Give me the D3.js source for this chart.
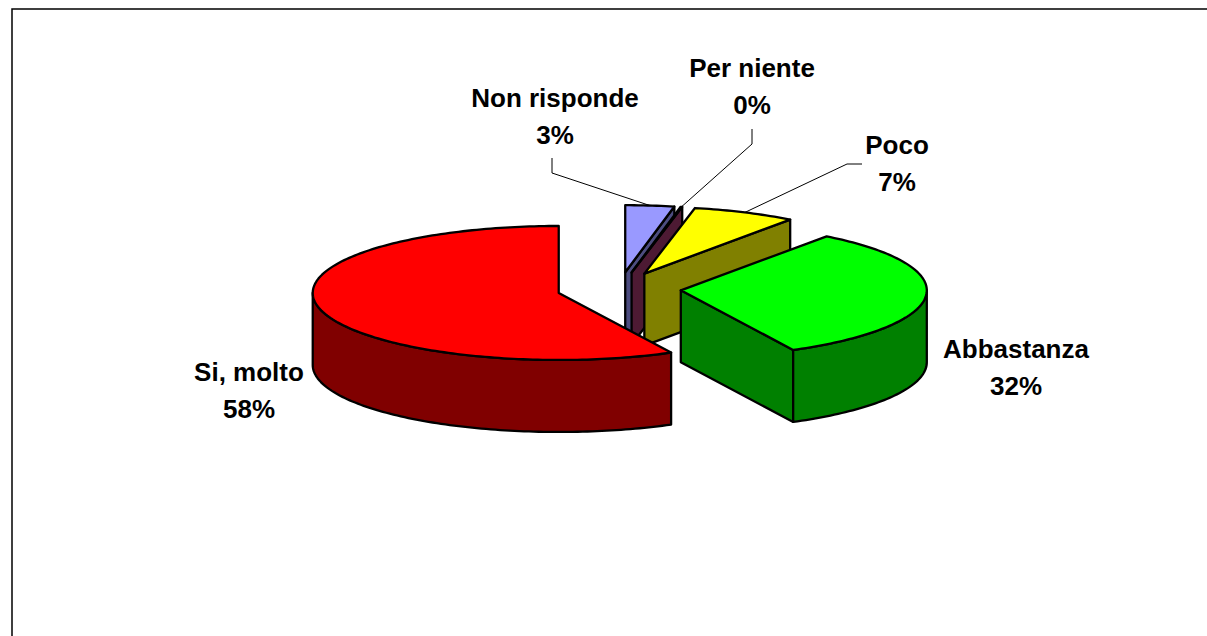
<!DOCTYPE html>
<html><head><meta charset="utf-8">
<script src="https://cdnjs.cloudflare.com/ajax/libs/d3/7.8.5/d3.min.js"></script>
<style>html,body{margin:0;padding:0;background:#fff}svg{display:block}
text{font-family:"Liberation Sans",Arial,sans-serif;font-weight:bold;font-size:26px;fill:#000}</style>
</head><body><svg id="c" width="1207" height="636"></svg>
<script>
// Data
const categories = ["Non risponde","Per niente","Poco","Abbastanza","Si, molto"];
const values = [3.2,0.1,6.8,32.35,57.55];
// Styles
const topColors = ["#9999ff","#993366","#ffff00","#00ff00","#ff0000"];
const sideColors = ["#4d4d80","#4d1a33","#808000","#008000","#800000"];
// Layout
const cx=619, cy=289, rx=246, ry=67, depth=72, explode=62;
const labelPos = [[555,98],[752,68],[897,145],[1016,349],[249,372]];
const leaderPts = [[[552,158],[552,173]],[[752,129],[752,144]],[[862,164],[847,164]]];
const svg=d3.select("#c");
svg.append("path").attr("d","M12,640V9H1210").attr("fill","none").attr("stroke","#000").attr("stroke-width",1.5);

const pie=d3.pie().sort(null).value(d=>d)(values);
const total=d3.sum(values);
const squash=ry/rx;
const px=a=>rx*Math.sin(a), py=a=>-ry*Math.cos(a);
const g=svg.append("g");
function center(p){const m=(p.startAngle+p.endAngle)/2;
  return [cx+explode*Math.sin(m), cy-explode*squash*Math.cos(m)];}
function rimPath(c,a0,a1,dy){const n=Math.max(2,Math.ceil((a1-a0)/0.02));
  return d3.range(n+1).map(i=>{const a=a0+(a1-a0)*i/n;return [c[0]+px(a),c[1]+py(a)+dy];});}
const line=d3.line();
pie.forEach((p,i)=>{
  const c=center(p),a0=p.startAngle,a1=p.endAngle;
  const s=g.append("g").attr("stroke","#000").attr("stroke-width",2.3).attr("stroke-linejoin","round");
  if(Math.sin(a1)>0){
    const e=[c[0]+px(a1),c[1]+py(a1)];
    s.append("path").attr("d",line([c,e,[e[0],e[1]+depth],[c[0],c[1]+depth]])+"Z").attr("fill",sideColors[i]);
  }
  const f0=Math.max(a0,Math.PI/2),f1=Math.min(a1,3*Math.PI/2);
  if(f1>f0){
    const up=rimPath(c,f0,f1,0),dn=rimPath(c,f0,f1,depth).reverse();
    s.append("path").attr("d",line(up.concat(dn))+"Z").attr("fill",sideColors[i]);
  }
  s.append("path").attr("d",line([c].concat(rimPath(c,a0,a1,0)))+"Z").attr("fill",topColors[i]);
});
// Leaders end at each slice's mid-angle point on the rim
leaderPts.forEach((pts,i)=>{
  const p=pie[i],c=center(p),a=(p.startAngle+p.endAngle)/2;
  const end=[c[0]+px(a),c[1]+py(a)];
  svg.append("path").attr("d",line(pts.concat([end]))).attr("fill","none").attr("stroke","#000").attr("stroke-width",1);
});
// Labels
categories.forEach((n,i)=>{
  const t=svg.append("text").attr("text-anchor","middle");
  t.append("tspan").attr("x",labelPos[i][0]).attr("y",labelPos[i][1]+9).text(n);
  t.append("tspan").attr("x",labelPos[i][0]).attr("y",labelPos[i][1]+46).text(Math.round(values[i]/total*100)+"%");
});
</script></body></html>
